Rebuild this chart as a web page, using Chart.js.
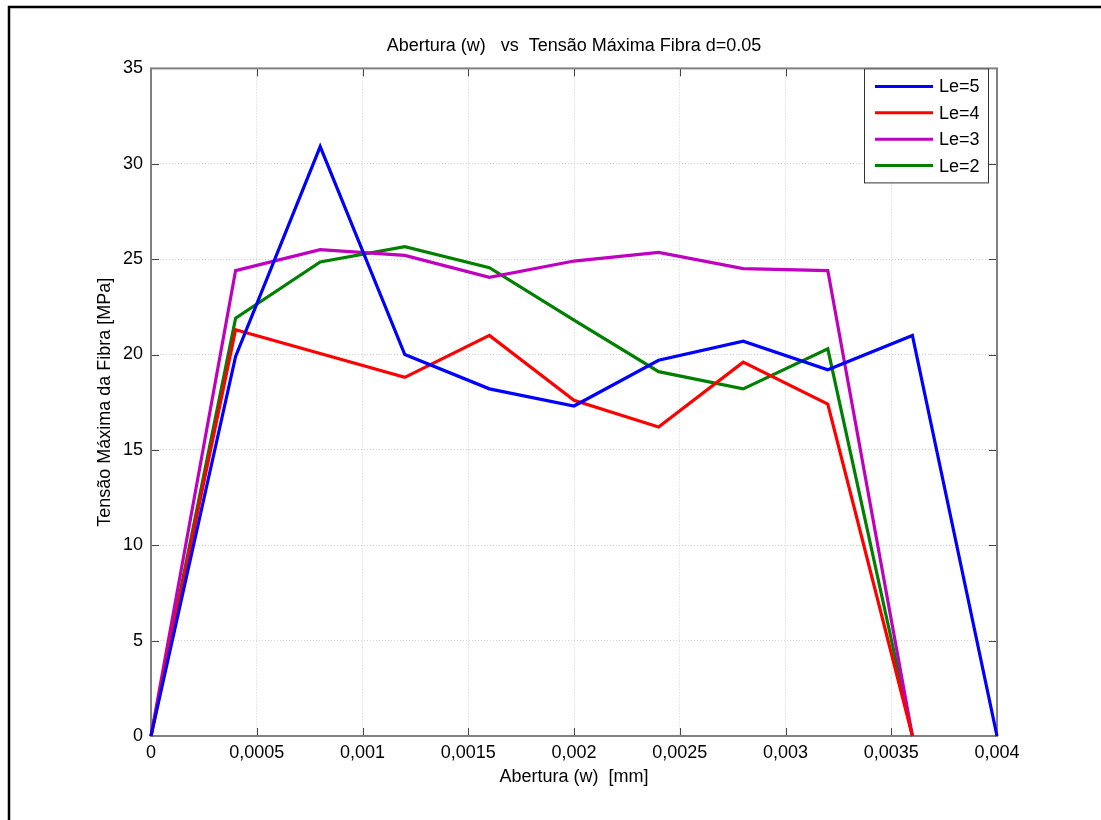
<!DOCTYPE html>
<html>
<head>
<meta charset="utf-8">
<script src="https://cdn.jsdelivr.net/npm/chart.js@4.4.0/dist/chart.umd.min.js"></script>
<style>
  html, body { margin: 0; padding: 0; background: #fff; }
  #wrap { width: 1101px; height: 820px; }
</style>
</head>
<body>
<div id="wrap"><canvas id="chart" width="1101" height="820"></canvas></div>
<script>
// Data
const abertura = [0, 0.0004, 0.0008, 0.0012, 0.0016, 0.002, 0.0024, 0.0028, 0.0032, 0.0036, 0.004];
const le5 = [0, 19.9, 30.9, 20.0, 18.2, 17.3, 19.7, 20.7, 19.2, 21.0, 0];
const le4 = [0, 21.3, 20.05, 18.8, 21.0, 17.6, 16.2, 19.6, 17.4, 0];
const le3 = [0, 24.4, 25.5, 25.2, 24.05, 24.9, 25.35, 24.5, 24.4, 0];
const le2 = [0, 21.9, 24.85, 25.65, 24.55, 21.8, 19.1, 18.2, 20.3, 0];
const xTicks = [0, 0.0005, 0.001, 0.0015, 0.002, 0.0025, 0.003, 0.0035, 0.004];
const yTicks = [0, 5, 10, 15, 20, 25, 30, 35];

Chart.defaults.font.family = "'Liberation Sans', Arial, sans-serif";
Chart.defaults.color = '#000';

function pts(ys) {
    return ys.map((y, i) => ({ x: abertura[i], y: y }));
}

function series(label, ys, color) {
    return {
        label: label,
        data: pts(ys),
        borderColor: color,
        backgroundColor: color,
        borderWidth: 3.2,
        pointRadius: 0,
        tension: 0,
        clip: false
    };
}

// white background + outer frame (top and left edges only, like the cropped figure)
const frame = {
    id: 'frame',
    beforeDraw(chart) {
        const c = chart.ctx;
        c.save();
        c.fillStyle = '#fff';
        c.fillRect(0, 0, chart.width, chart.height);
        c.strokeStyle = '#000';
        c.lineWidth = 2.5;
        c.beginPath();
        c.moveTo(9, chart.height);
        c.lineTo(9, 7);
        c.lineTo(chart.width, 7);
        c.stroke();
        c.restore();
    }
};

// MATLAB-like axes box with inward ticks on all four sides
const axesBox = {
    id: 'axesBox',
    beforeDatasetsDraw(chart) {
        const { ctx: c, chartArea: a, scales } = chart;
        c.save();
        c.strokeStyle = '#444';
        c.lineWidth = 1;
        const len = 8;
        c.beginPath();
        xTicks.forEach(v => {
            const px = Math.round(scales.x.getPixelForValue(v)) + 0.5;
            c.moveTo(px, a.bottom); c.lineTo(px, a.bottom - len);
            c.moveTo(px, a.top); c.lineTo(px, a.top + len);
        });
        yTicks.forEach(v => {
            const py = Math.round(scales.y.getPixelForValue(v)) + 0.5;
            c.moveTo(a.left, py); c.lineTo(a.left + len, py);
            c.moveTo(a.right, py); c.lineTo(a.right - len, py);
        });
        c.stroke();
        c.strokeStyle = '#808080';
        c.lineWidth = 2;
        c.strokeRect(a.left, a.top, a.right - a.left, a.bottom - a.top);
        c.restore();
    }
};

// legend drawn inside the axes, top right
const boxLegend = {
    id: 'boxLegend',
    afterDatasetsDraw(chart) {
        const { ctx: c, chartArea: a } = chart;
        const w = 124, h = 114;
        const x0 = a.right - w - 9, y0 = a.top;
        c.save();
        c.fillStyle = '#fff';
        c.fillRect(x0, y0, w, h);
        c.strokeStyle = '#333';
        c.lineWidth = 1;
        c.strokeRect(x0 + 0.5, y0 + 0.5, w, h);
        c.font = "18px 'Liberation Sans', Arial, sans-serif";
        c.textBaseline = 'middle';
        c.textAlign = 'left';
        chart.data.datasets.forEach((ds, i) => {
            const y = y0 + 18 + i * 26.4;
            c.strokeStyle = ds.borderColor;
            c.lineWidth = 3;
            c.beginPath();
            c.moveTo(x0 + 11, y);
            c.lineTo(x0 + 69, y);
            c.stroke();
            c.fillStyle = '#000';
            c.fillText(ds.label, x0 + 75, y + 1);
        });
        c.restore();
    }
};

const ctx = document.getElementById('chart').getContext('2d');
const chart = new Chart(ctx, {
    type: 'line',
    data: {
        datasets: [
            series('Le=5', le5, '#0000ff'),
            series('Le=4', le4, '#ff0000'),
            series('Le=3', le3, '#bf00bf'),
            series('Le=2', le2, '#008000')
        ]
    },
    options: {
        responsive: false,
        animation: false,
        layout: { padding: { top: 6, right: 104, bottom: 0, left: 0 } },
        plugins: {
            legend: { display: false },
            tooltip: { enabled: false },
            title: {
                display: true,
                fullSize: false,
                text: 'Abertura (w)   vs  Tensão Máxima Fibra d=0.05',
                font: { size: 18, weight: 'normal' },
                color: '#000',
                padding: { top: 29.4, bottom: 11.4 }
            }
        },
        scales: {
            x: {
                type: 'linear',
                min: 0,
                max: 0.004,
                afterBuildTicks: (s) => { s.ticks = xTicks.map(v => ({ value: v })); },
                afterFit: (s) => { s.height = 84; },
                ticks: {
                    font: { size: 18 },
                    color: '#000',
                    padding: 6,
                    maxRotation: 0,
                    callback: (v) => String(Number(v.toFixed(4))).replace('.', ',')
                },
                grid: { color: '#d2d2d2', drawTicks: false, tickLength: 0 },
                border: { display: false, dash: [1, 2] },
                title: {
                    display: true,
                    text: 'Abertura (w)  [mm]',
                    font: { size: 18 },
                    color: '#000',
                    padding: { top: 0, bottom: 32.4 }
                }
            },
            y: {
                min: 0,
                max: 35,
                afterBuildTicks: (s) => { s.ticks = yTicks.map(v => ({ value: v })); },
                afterFit: (s) => { s.width = 151; },
                ticks: {
                    font: { size: 18 },
                    color: '#000',
                    padding: 8
                },
                grid: { color: '#d2d2d2', drawTicks: false, tickLength: 0 },
                border: { display: false, dash: [1, 2] },
                title: {
                    display: true,
                    text: 'Tensão Máxima da Fibra [MPa]',
                    font: { size: 18 },
                    color: '#000',
                    padding: { top: 94.4, bottom: 0 }
                }
            }
        }
    },
    plugins: [frame, axesBox, boxLegend]
});
</script>
</body>
</html>
